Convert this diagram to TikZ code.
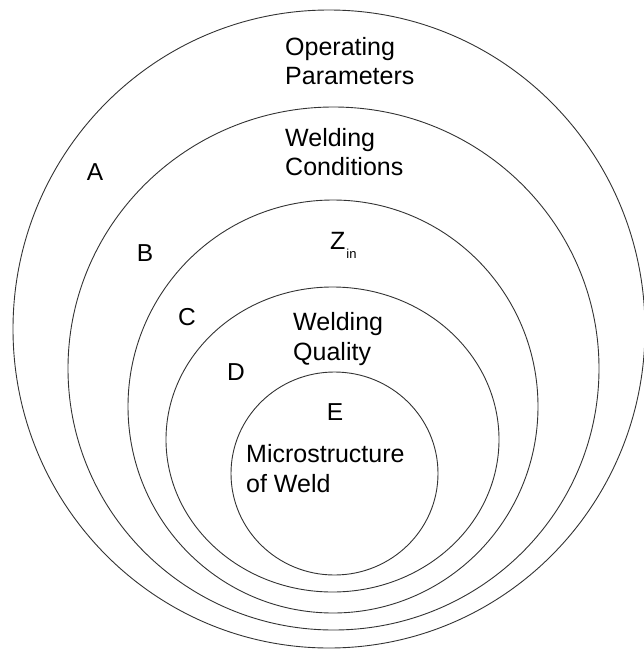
\documentclass[tikz,border=0pt]{standalone}
\usepackage{fontspec}
\setmainfont{Liberation Sans}
\begin{document}
\begin{tikzpicture}[x=1pt,y=-1pt,
  ring/.style={draw=black!80,line width=0.9pt},
  lbl/.style={inner sep=0pt,anchor=base west,font=\fontsize{25}{30}\selectfont},
  letter/.style={inner sep=0pt,anchor=base,font=\fontsize{24.5}{30}\selectfont}]
\useasboundingbox (0,0) rectangle (643,651);
% ellipses
\draw[ring] (329,329) ellipse [x radius=316, y radius=319];
\draw[ring] (333.5,368.5) ellipse [x radius=265.5, y radius=261.5];
\draw[ring] (333,406.5) ellipse [x radius=205, y radius=206.5];
\draw[ring] (332.5,439.5) ellipse [x radius=166.5, y radius=152.5];
\draw[ring] (334.5,473.5) ellipse [x radius=103.5, y radius=101.5];
% labels
\node[lbl] (op1) at (285,55) {Operating};
\node[lbl] (op2) at (285,84) {Parameters};
\node[lbl] (wc1) at (285,146) {Welding};
\node[lbl] (wc2) at (285,175) {Conditions};
\node[lbl] (wq1) at (293,330) {Welding};
\node[lbl] (wq2) at (293,360) {Quality};
\node[lbl] (mw1) at (246,462) {Microstructure};
\node[lbl] (mw2) at (246,492) {of Weld};
\node[lbl] (zin) at (330,249) {Z\kern1pt\raisebox{-9pt}{\fontsize{13}{13}\selectfont in}};
\node[letter] (la) at (95,180) {A};
\node[letter] (lb) at (145,261) {B};
\node[letter] (lc) at (187,325) {C};
\node[letter] (ld) at (236,380) {D};
\node[letter] (le) at (335,420) {E};
\end{tikzpicture}
\end{document}
